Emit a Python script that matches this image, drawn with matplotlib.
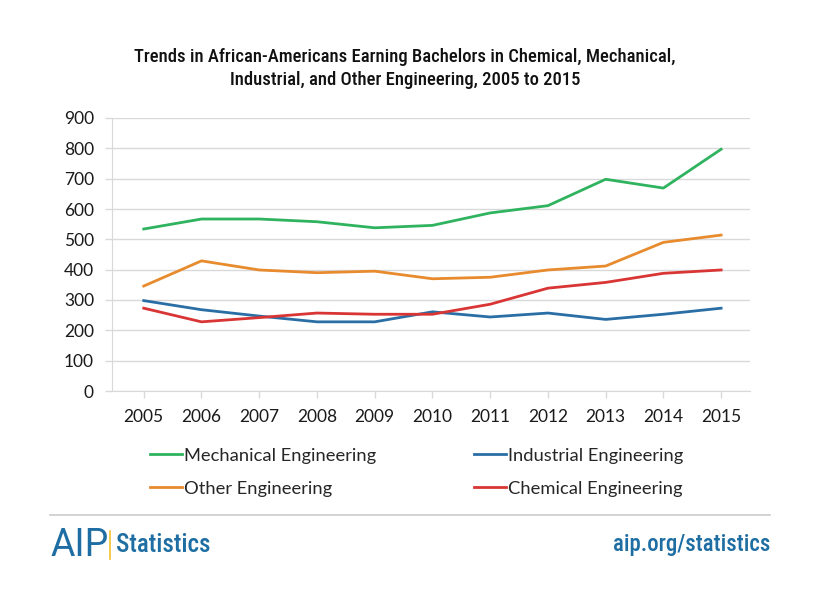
import matplotlib
matplotlib.use("Agg")
import matplotlib.pyplot as plt
from matplotlib import font_manager
from matplotlib.lines import Line2D

years = ["2005", "2006", "2007", "2008", "2009", "2010", "2011", "2012", "2013", "2014", "2015"]
mechanical = [534, 567, 567, 558, 538, 546, 587, 611, 698, 669, 797]
other = [346, 429, 399, 390, 395, 370, 375, 399, 412, 490, 514]
chemical = [273, 228, 242, 257, 253, 253, 286, 339, 358, 388, 399]
industrial = [298, 268, 247, 228, 228, 261, 244, 257, 236, 253, 273]
yticks = [0, 100, 200, 300, 400, 500, 600, 700, 800, 900]

names = {f.name for f in font_manager.fontManager.ttflist}
body_font = "Lato" if "Lato" in names else "DejaVu Sans"
title_font = "Roboto"
for cand in ["Roboto Condensed", "Open Sans Condensed", "Liberation Sans Narrow", "Roboto"]:
    if cand in names:
        title_font = cand
        break
condensed = title_font != "Roboto"

c_mech = "#2fb35f"
c_ind = "#2a6ea6"
c_oth = "#e88b2e"
c_chem = "#d93535"
c_aip = "#1f6ea3"

fig = plt.figure(figsize=(8.2, 5.95), dpi=100)
ax = fig.add_axes([112/820, 1-391/595, (750-112)/820, (391-118)/595])

x = list(range(len(years)))
ax.plot(x, mechanical, color=c_mech, lw=2, label="Mechanical Engineering")
ax.plot(x, industrial, color=c_ind, lw=2, label="Industrial Engineering")
ax.plot(x, other, color=c_oth, lw=2, label="Other Engineering")
ax.plot(x, chemical, color=c_chem, lw=2, label="Chemical Engineering")

ax.set_xlim(-0.55, 10.5)
ax.set_ylim(0, 900)
ax.set_yticks(yticks)
ax.set_xticks(x)
ax.set_xticklabels(years)
ax.grid(axis="y", color="#d9d9d9", lw=1)
ax.set_axisbelow(True)
for s in ["top", "right"]:
    ax.spines[s].set_visible(False)
ax.spines["left"].set_color("#d9d9d9")
ax.spines["bottom"].set_color("#d9d9d9")
ax.tick_params(axis="both", colors="#d9d9d9", length=5, width=1, labelcolor="#1a1a1a", labelsize=12.5)
ax.tick_params(axis="x", pad=8)
ax.tick_params(axis="y", pad=8)
for lbl in ax.get_xticklabels() + ax.get_yticklabels():
    lbl.set_fontfamily(body_font)

tsize = 13.4 if condensed else 12.2
fig.text(405/820, 1-57/595, "Trends in African-Americans Earning Bachelors in Chemical, Mechanical,",
         ha="center", va="center", fontsize=tsize, family=title_font, weight="medium", color="#111111")
fig.text(405/820, 1-80/595, "Industrial, and Other Engineering, 2005 to 2015",
         ha="center", va="center", fontsize=tsize, family=title_font, weight="medium", color="#111111")

handles, labels = ax.get_legend_handles_labels()
order = [0, 2, 1, 3]
leg = fig.legend([handles[i] for i in order], [labels[i] for i in order], ncol=2,
                 loc="upper left", bbox_to_anchor=(133/820, 1-431/595), frameon=False,
                 handlelength=1.75, handletextpad=0.15, columnspacing=5.3, labelspacing=0.95,
                 prop={"family": body_font, "size": 13.2})
for t in leg.get_texts():
    t.set_color("#262626")

fig.add_artist(Line2D([50/820, 770/820], [1-515/595, 1-515/595], color="#cccccc", lw=1.2))
fig.text(51/820, 1-545/595, "AIP", ha="left", va="center", fontsize=27, color=c_aip, family="Roboto")
fig.add_artist(Line2D([110/820, 110/820], [1-531/595, 1-559/595], color="#f2c230", lw=1.2))
ssize = 17 if condensed else 15
fig.text(116/820, 1-545/595, "Statistics", ha="left", va="center", fontsize=ssize + 1.0, color=c_aip,
         family=title_font, weight="medium")
fig.text(770/820, 1-545/595, "aip.org/statistics", ha="right", va="center", fontsize=ssize - 0.5, color=c_aip,
         family=title_font, weight="medium")

fig.savefig("out.png", dpi=100)
